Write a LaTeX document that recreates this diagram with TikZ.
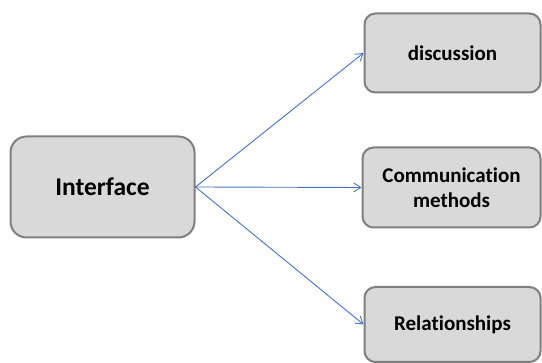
\documentclass[tikz,border=0pt]{standalone}
\usepackage{fontspec}
\setmainfont{Carlito}[Ligatures={NoCommon}]
\usetikzlibrary{arrows.meta}
\definecolor{boxfill}{HTML}{D9D9D9}
\definecolor{boxline}{HTML}{7F7F7F}
\definecolor{linkblue}{HTML}{4472C4}
\tikzset{
  topic/.style={draw=boxline, fill=boxfill, line width=2pt, rounded corners=11pt,
    align=center, inner sep=0pt, font=\fontsize{21}{25}\selectfont\bfseries},
  hub/.style={topic, rounded corners=16pt, font=\fontsize{25.5}{30}\selectfont\bfseries},
  link/.style={draw=linkblue, line width=0.9pt, -{Straight Barb[length=7pt,width=9pt,line width=0.9pt]}}
}
\begin{document}
\begin{tikzpicture}[x=1pt,y=1pt]
  \useasboundingbox (0,0) rectangle (542,363);
  \node[hub, minimum width=184pt, minimum height=101pt] (iface) at (102.5,176) {Interface};
  \node[topic, minimum width=176pt, minimum height=79pt] (disc) at (452.5,310) {discussion};
  \node[topic, minimum width=178pt, minimum height=80pt] (comm) at (451.5,175.5) {Communication\\methods};
  \node[topic, minimum width=176pt, minimum height=75pt] (rel) at (452.5,38.5) {Relationships};
  \draw[link] (iface.east) -- (disc.west);
  \draw[link] (iface.east) -- (comm.west);
  \draw[link] (iface.east) -- (rel.west);
\end{tikzpicture}
\end{document}
